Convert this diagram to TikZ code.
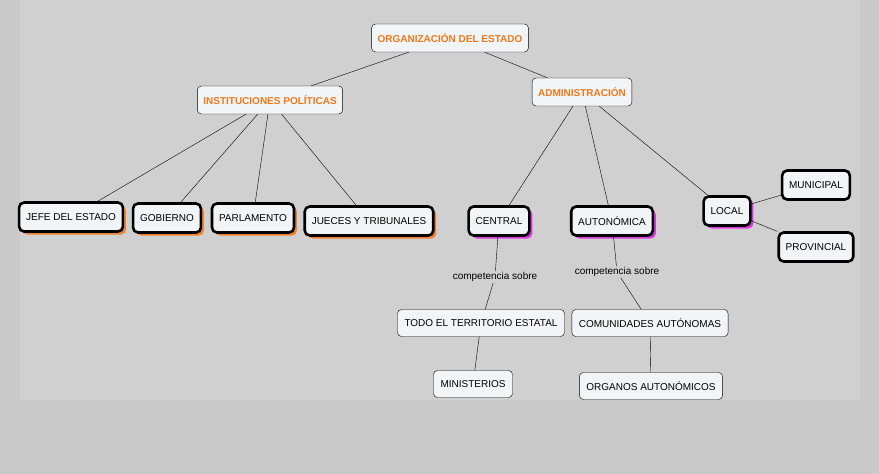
\documentclass[tikz,border=0pt]{standalone}
\usepackage{fontspec}
\setmainfont{Liberation Sans}
\usetikzlibrary{shadows}
\definecolor{bg}{HTML}{C9C9C9}
\definecolor{bgin}{HTML}{D0D0D0}
\definecolor{boxfill}{HTML}{F2F5F7}
\definecolor{titleorange}{HTML}{F07818}
\definecolor{shorange}{HTML}{F08030}
\definecolor{shmagenta}{HTML}{D838D8}
\begin{document}
\begin{tikzpicture}[x=1pt, y=-1pt, font=\fontsize{10}{12}\selectfont]
    \tikzset{
        title/.style   = {draw, rounded corners=4pt, fill=boxfill, thin, font=\fontsize{10}{12}\selectfont\bfseries, text=titleorange, minimum height=28pt, inner xsep=6pt},
        concept/.style = {draw, line width=2.6pt, rounded corners=5pt, fill=boxfill, inner xsep=7pt, minimum height=29pt},
        inst/.style    = {concept, drop shadow={shadow xshift=3pt, shadow yshift=-3pt, fill=shorange, opacity=1}},
        admin/.style   = {concept, drop shadow={shadow xshift=3pt, shadow yshift=-3pt, fill=shmagenta, opacity=1}},
        plain/.style   = {draw, rounded corners=4pt, fill=boxfill, thin, inner xsep=7pt, minimum height=27pt},
        link/.style    = {fill=bgin, inner sep=1pt, font=\fontsize{10}{12}\selectfont}
    }
    \fill[bg] (0,0) rectangle (879,474);
    \fill[bgin] (20,0) rectangle (860,400);

    \node[title] (ORG) at (450,38) {ORGANIZACIÓN DEL ESTADO};
    \node[title] (INST) at (270,100) {INSTITUCIONES POLÍTICAS};
    \node[title] (ADM) at (582,92) {ADMINISTRACIÓN};

    \node[inst] (JEFE) at (71,217) {JEFE DEL ESTADO};
    \node[inst] (GOB) at (167,218) {GOBIERNO};
    \node[inst] (PARL) at (253,218) {PARLAMENTO};
    \node[inst] (JUEC) at (369,221) {JUECES Y TRIBUNALES};

    \node[admin] (CEN) at (499,221) {CENTRAL};
    \node[admin] (AUT) at (612,221) {AUTONÓMICA};
    \node[admin] (LOC) at (727,211) {LOCAL};
    \node[concept] (MUN) at (816,185) {MUNICIPAL};
    \node[concept] (PROV) at (816,247) {PROVINCIAL};

    \node[link] (COMP1) at (495,277) {competencia sobre};
    \node[link] (COMP2) at (617,272) {competencia sobre};
    \node[plain] (TODO) at (481,323) {TODO EL TERRITORIO ESTATAL};
    \node[plain] (COMU) at (650,323) {COMUNIDADES AUTÓNOMAS};
    \node[plain] (MIN) at (473,384) {MINISTERIOS};
    \node[plain] (ORGA) at (651,386) {ORGANOS AUTONÓMICOS};

    \draw (ORG) -- (INST);
    \draw (ORG) -- (ADM);
    \draw (INST) -- (JEFE);
    \draw (INST) -- (GOB);
    \draw (INST) -- (PARL);
    \draw (INST) -- (JUEC);
    \draw (ADM) -- (CEN);
    \draw (ADM) -- (AUT);
    \draw (ADM) -- (LOC);
    \draw (LOC) -- (MUN);
    \draw (LOC) -- (PROV);
    \draw (CEN) -- (COMP1);
    \draw (COMP1) -- (TODO);
    \draw (TODO) -- (MIN);
    \draw (AUT) -- (COMP2);
    \draw (COMP2) -- (COMU);
    \draw (COMU) -- (ORGA);
\end{tikzpicture}
\end{document}
